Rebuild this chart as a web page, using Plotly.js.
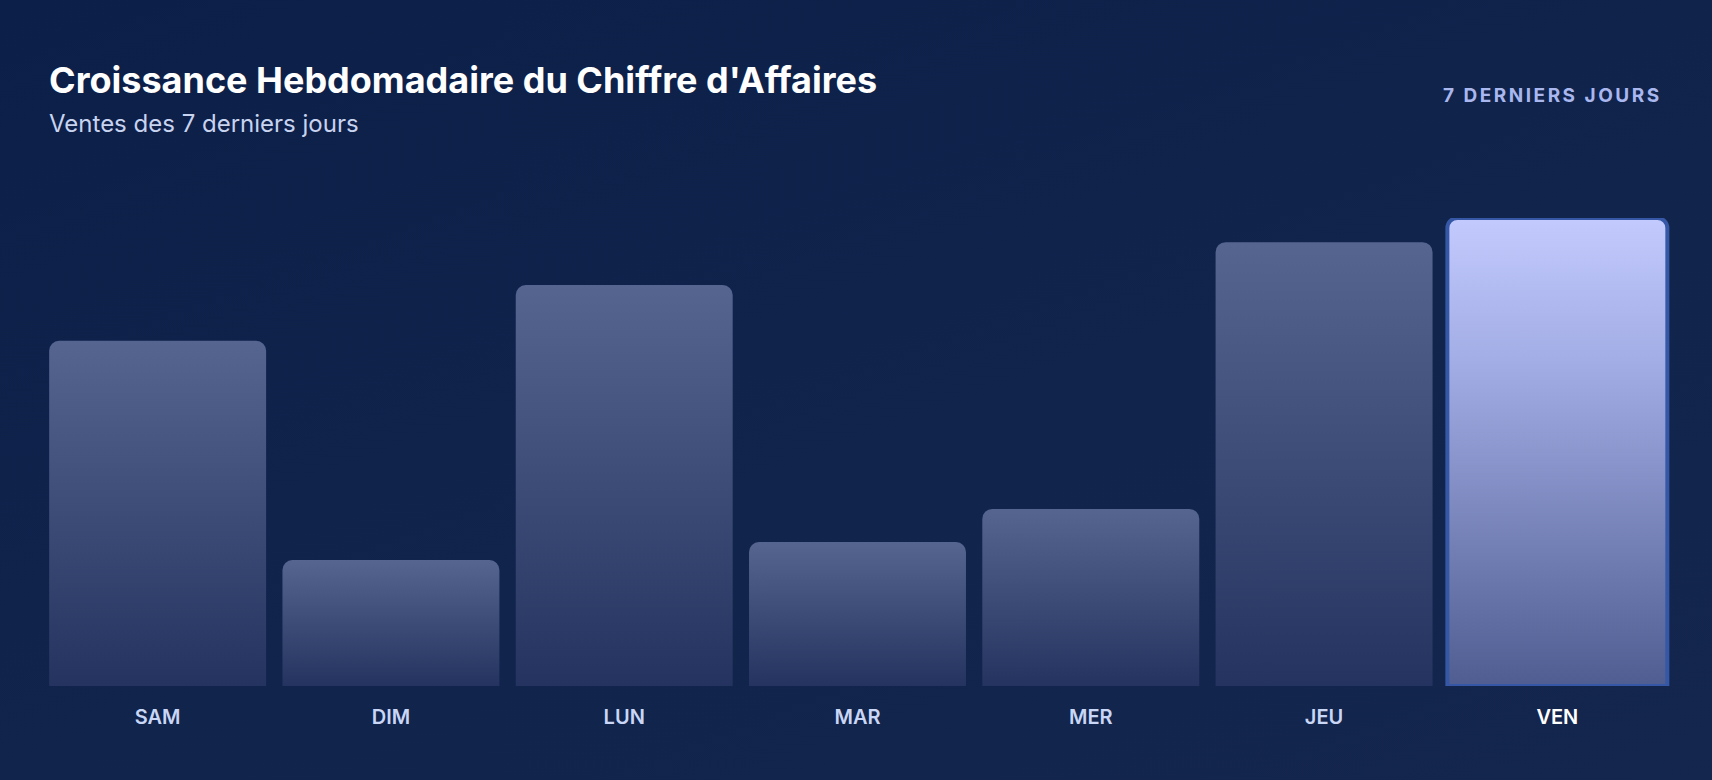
<!DOCTYPE html>
<html>
<head>
<meta charset="utf-8">
<script src="https://cdn.plot.ly/plotly-3.0.1.min.js"></script>
<style>
  html, body { margin:0; padding:0; width:1712px; height:780px; overflow:hidden;
    background: linear-gradient(160deg, #0c1f48 0%, #10244c 55%, #14264d 100%); }
  #chart { width:1712px; height:780px; }
</style>
</head>
<body>
<div id="chart"></div>
<script>
// ---- data ----
const days = ["SAM", "DIM", "LUN", "MAR", "MER", "JEU", "VEN"];
const sales = [8850, 3230, 10280, 3690, 4540, 11380, 12000];
const tickLabels = ["SAM", "DIM", "LUN", "MAR", "MER", "JEU", "VEN"];
const highlightIndex = 6;

// ---- layout geometry ----
const W = 1712, H = 780;
const M = { l: 41, r: 38, t: 218, b: 94 };
const plotH = H - M.t - M.b;
const plotW = W - M.l - M.r;
const yMax = Math.max(...sales);

const ticktext = tickLabels.map((t, i) =>
  i === highlightIndex ? '<span style="color:#ffffff">' + t + '</span>' : t);

const trace = {
  type: 'bar',
  x: days,
  y: sales,
  width: days.map((d, i) => i === highlightIndex ? 0.943 : 0.93),
  cliponaxis: false,
  hoverinfo: 'none',
  marker: {
    color: days.map((d, i) => i === highlightIndex ? '#a9b4ec' : '#3c4a78'),
    cornerradius: 10,
    line: {
      color: days.map((d, i) => i === highlightIndex ? '#3557a5' : 'rgba(0,0,0,0)'),
      width: days.map((d, i) => i === highlightIndex ? 4 : 0)
    }
  }
};

const layout = {
  width: W, height: H,
  margin: M,
  paper_bgcolor: 'rgba(0,0,0,0)',
  plot_bgcolor: 'rgba(0,0,0,0)',
  showlegend: false,
  bargap: 0.07,
  title: {
    text: "Croissance Hebdomadaire du Chiffre d'Affaires",
    font: { family: 'Inter', size: 36, weight: 700, color: '#ffffff' },
    xref: 'container', yref: 'container',
    x: 49 / W, xanchor: 'left',
    y: 1 - 68 / H, yanchor: 'top'
  },
  xaxis: {
    type: 'category',
    range: [-0.5, days.length - 0.5],
    tickvals: days,
    ticktext: ticktext,
    tickfont: { family: 'Inter', size: 20, weight: 600, color: '#c9d6f5' },
    ticks: '',
    showgrid: false, zeroline: false, showline: false,
    ticklabelstandoff: 17,
    fixedrange: true
  },
  yaxis: {
    range: [0, yMax],
    visible: false,
    showgrid: false, zeroline: false,
    fixedrange: true
  },
  annotations: [
    {
      text: 'Ventes des 7 derniers jours',
      xref: 'paper', yref: 'paper',
      x: (47 - M.l) / plotW, xanchor: 'left',
      y: 1 + (M.t - 123) / plotH, yanchor: 'middle',
      showarrow: false,
      font: { family: 'Inter', size: 24, weight: 400, color: '#c8d3ef' }
    },
    {
      text: '7 DERNIERS JOURS',
      xref: 'paper', yref: 'paper',
      x: (1461 - M.l) / plotW, xanchor: 'left',
      y: 1 + (M.t - 95) / plotH, yanchor: 'middle',
      showarrow: false,
      font: { family: 'Inter', size: 19, weight: 700, color: '#a9b7ee' }
    }
  ]
};

Plotly.newPlot('chart', [trace], layout, { displayModeBar: false, staticPlot: true }).then(gd => {
  const svg = gd.querySelector('svg.main-svg');
  const NS = 'http://www.w3.org/2000/svg';
  let defs = svg.querySelector('defs');
  if (!defs) { defs = document.createElementNS(NS, 'defs'); svg.insertBefore(defs, svg.firstChild); }
  function grad(id, stops) {
    const g = document.createElementNS(NS, 'linearGradient');
    g.setAttribute('id', id);
    g.setAttribute('x1', '0'); g.setAttribute('y1', '0');
    g.setAttribute('x2', '0'); g.setAttribute('y2', '1');
    stops.forEach(([o, c]) => {
      const s = document.createElementNS(NS, 'stop');
      s.setAttribute('offset', o); s.setAttribute('stop-color', c);
      g.appendChild(s);
    });
    defs.appendChild(g);
  }
  grad('gBar', [['0', '#56658f'], ['1', '#24335f']]);
  grad('gHi', [['0', '#c3cafd'], ['0.3', '#a3aee6'], ['1', '#4f5d91']]);
  const paths = gd.querySelectorAll('.trace.bars .point path');
  paths.forEach((p, i) => {
    p.style.fill = i === highlightIndex ? 'url(#gHi)' : 'url(#gBar)';
  });
  // letter spacing for the right-hand tag
  const ann = gd.querySelectorAll('.annotation-text');
  if (ann[1]) ann[1].style.letterSpacing = '2.5px';
});
</script>
</body>
</html>
